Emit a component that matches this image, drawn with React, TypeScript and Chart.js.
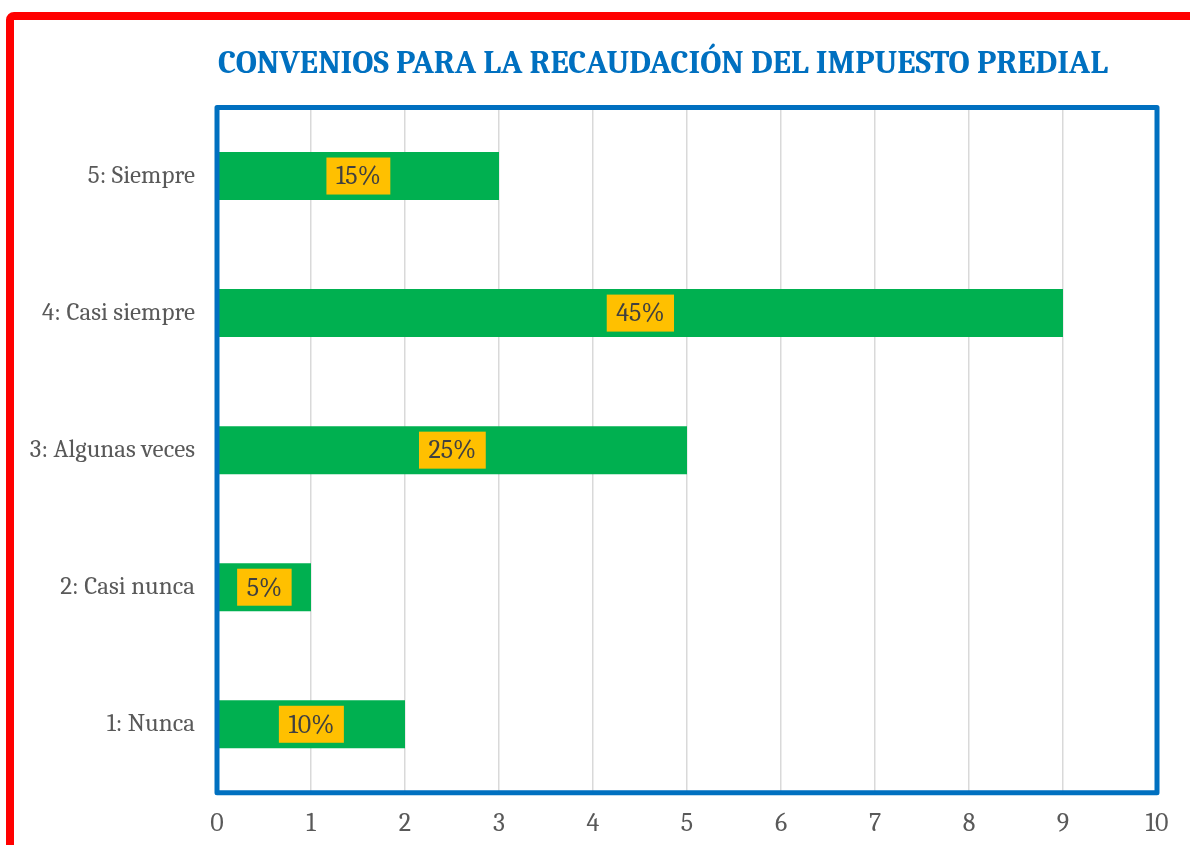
import { useEffect, useRef } from "react";
import { Chart, registerables } from "chart.js";

Chart.register(...registerables);

const TITLE = "CONVENIOS PARA LA RECAUDACIÓN DEL IMPUESTO PREDIAL";
const categories = ["5: Siempre", "4: Casi siempre", "3: Algunas veces", "2: Casi nunca", "1: Nunca"];
const counts = [3, 9, 5, 1, 2];
const xMin = 0;
const xMax = 10;
const xStep = 1;

const SERIF = "Cambria, Caladea, 'Liberation Serif', 'DejaVu Serif', serif";

const chartTitle = {
  id: "chartTitle",
  afterDraw(chart: any) {
    const { ctx, width } = chart;
    ctx.save();
    ctx.font = `bold 32.7px ${SERIF}`;
    ctx.fillStyle = "#0070C0";
    ctx.textAlign = "center";
    ctx.textBaseline = "middle";
    ctx.fillText(TITLE, width / 2, 44);
    ctx.restore();
  },
};

const plotFrame = {
  id: "plotFrame",
  afterDraw(chart: any) {
    const { ctx, chartArea } = chart;
    const { left, top, right, bottom } = chartArea;
    ctx.save();
    ctx.strokeStyle = "#0070C0";
    ctx.lineWidth = 5;
    ctx.lineJoin = "round";
    ctx.strokeRect(left, top, right - left, bottom - top);
    ctx.restore();
  },
};

const barLabels = {
  id: "barLabels",
  afterDatasetsDraw(chart: any) {
    const { ctx } = chart;
    const data = chart.data.datasets[0].data as number[];
    const total = data.reduce((a, b) => a + b, 0);
    const meta = chart.getDatasetMeta(0);
    ctx.save();
    ctx.font = `26px ${SERIF}`;
    ctx.textAlign = "center";
    ctx.textBaseline = "middle";
    meta.data.forEach((bar: any, i: number) => {
      const { x, y, base } = bar.getProps(["x", "y", "base"], true);
      const cx = (x + base) / 2;
      const text = `${Math.round((data[i] / total) * 100)}%`;
      const w = ctx.measureText(text).width + 19;
      const h = 37;
      ctx.fillStyle = "#FFC000";
      ctx.fillRect(cx - w / 2, y - h / 2, w, h);
      ctx.fillStyle = "#404040";
      ctx.fillText(text, cx, y + 1);
    });
    ctx.restore();
  },
};

export default function App() {
  const ref = useRef<HTMLCanvasElement>(null);

  useEffect(() => {
    if (!ref.current) return;
    const chart = new Chart(ref.current, {
      type: "bar",
      data: {
        labels: categories,
        datasets: [
          {
            data: counts,
            backgroundColor: "#00B050",
            borderWidth: 0,
            barPercentage: 0.35,
            categoryPercentage: 1,
          },
        ],
      },
      options: {
        indexAxis: "y",
        responsive: false,
        animation: false,
        layout: { padding: { left: 0, right: 155, top: 87.5, bottom: 0 } },
        plugins: {
          legend: { display: false },
          tooltip: { enabled: false },
          title: { display: false },
        },
        scales: {
          x: {
            min: xMin,
            max: xMax,
            ticks: {
              stepSize: xStep,
              color: "#595959",
              font: { size: 26, family: SERIF },
              padding: 15,
            },
            grid: { color: "#D9D9D9", lineWidth: 1.5, drawTicks: false },
            border: { display: false },
          },
          y: {
            ticks: {
              color: "#595959",
              font: { size: 25, family: SERIF },
              padding: 22,
            },
            grid: { display: false, drawTicks: false },
            border: { display: false },
            afterFit(scale: any) {
              scale.width = 203;
            },
          },
        },
      },
      plugins: [barLabels, plotFrame, chartTitle],
    });
    return () => chart.destroy();
  }, []);

  return (
    <div
      style={{
        position: "fixed",
        left: 0,
        top: 0,
        width: 1190,
        height: 845,
        overflow: "hidden",
        background: "#ffffff",
      }}
    >
      <div
        style={{
          position: "absolute",
          left: 6,
          top: 12,
          width: 1400,
          height: 900,
          border: "8px solid #FF0000",
          borderRadius: 8,
          background: "#ffffff",
        }}
      >
        <canvas ref={ref} width={1298} height={834} style={{ display: "block" }} />
      </div>
    </div>
  );
}
